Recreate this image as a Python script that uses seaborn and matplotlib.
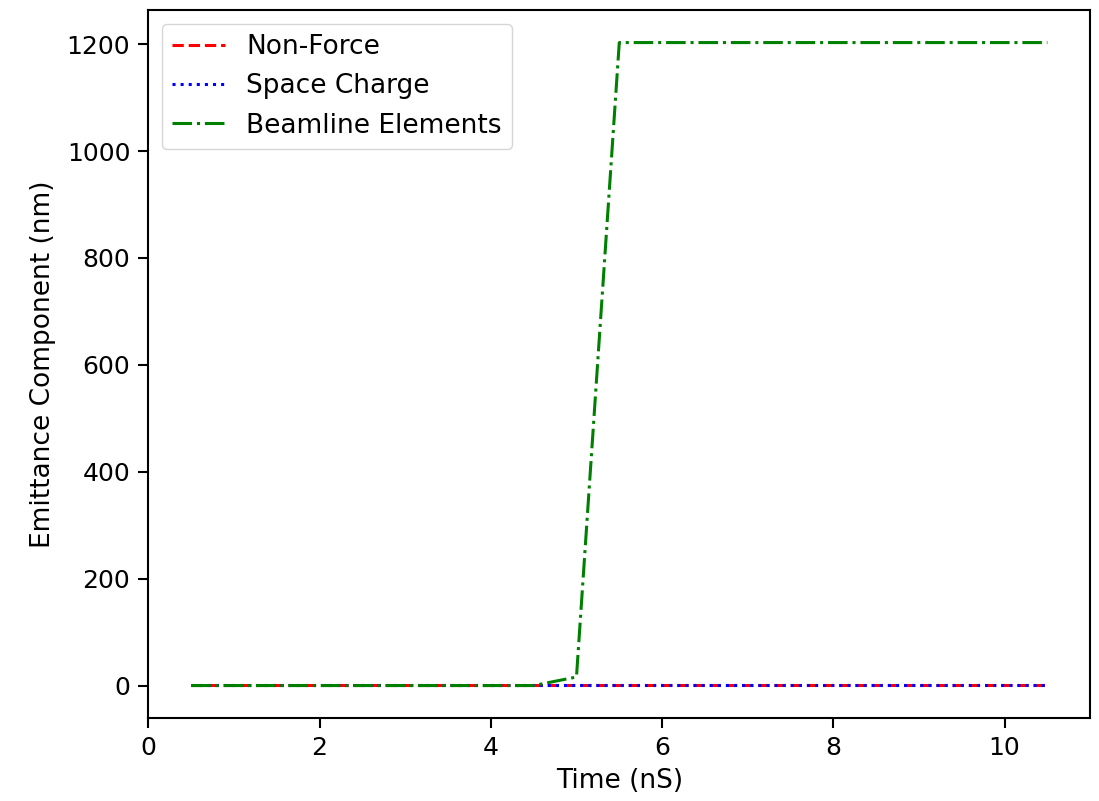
import numpy as np
import pandas as pd
import matplotlib
matplotlib.use("Agg")
import matplotlib.pyplot as plt
import seaborn as sns

time_ns = np.arange(0.5, 10.51, 0.25)

non_force = [1.5] * len(time_ns)
space_charge = [1.2] * len(time_ns)
beamline = ([0.0] * 17 +          # 0.5 .. 4.5
            [8.0, 16.0, 610.0] +  # 4.75, 5.0, 5.25
            [1203.0] * 21)        # 5.5 .. 10.5

df = pd.DataFrame({"time": time_ns,
                   "Non-Force": non_force,
                   "Space Charge": space_charge,
                   "Beamline Elements": beamline})

plt.rcParams["font.family"] = ["DejaVu Sans"]
plt.rcParams["font.size"] = 19
plt.rcParams["axes.linewidth"] = 1.5
for a in ("xtick", "ytick"):
    plt.rcParams[f"{a}.major.size"] = 7
    plt.rcParams[f"{a}.major.width"] = 1.5
    plt.rcParams[f"{a}.major.pad"] = 6
    plt.rcParams[f"{a}.labelsize"] = 18

fig, ax = plt.subplots(figsize=(10.99, 8.01), dpi=100)
fig.subplots_adjust(left=0.135, right=0.992, top=0.987, bottom=0.104)

sns.lineplot(data=df, x="time", y="Non-Force", ax=ax, color="r",
             linestyle="--", lw=2.2, label="Non-Force")
sns.lineplot(data=df, x="time", y="Space Charge", ax=ax, color="b",
             linestyle=":", lw=2.2, label="Space Charge")
sns.lineplot(data=df, x="time", y="Beamline Elements", ax=ax, color="g",
             linestyle="-.", lw=2.2, label="Beamline Elements")

ax.set_xlabel("Time (nS)", labelpad=6)
ax.set_ylabel("Emittance Component (nm)", labelpad=8)
ax.legend(loc="upper left", fontsize=19)

plt.savefig("out.png", dpi=100)
